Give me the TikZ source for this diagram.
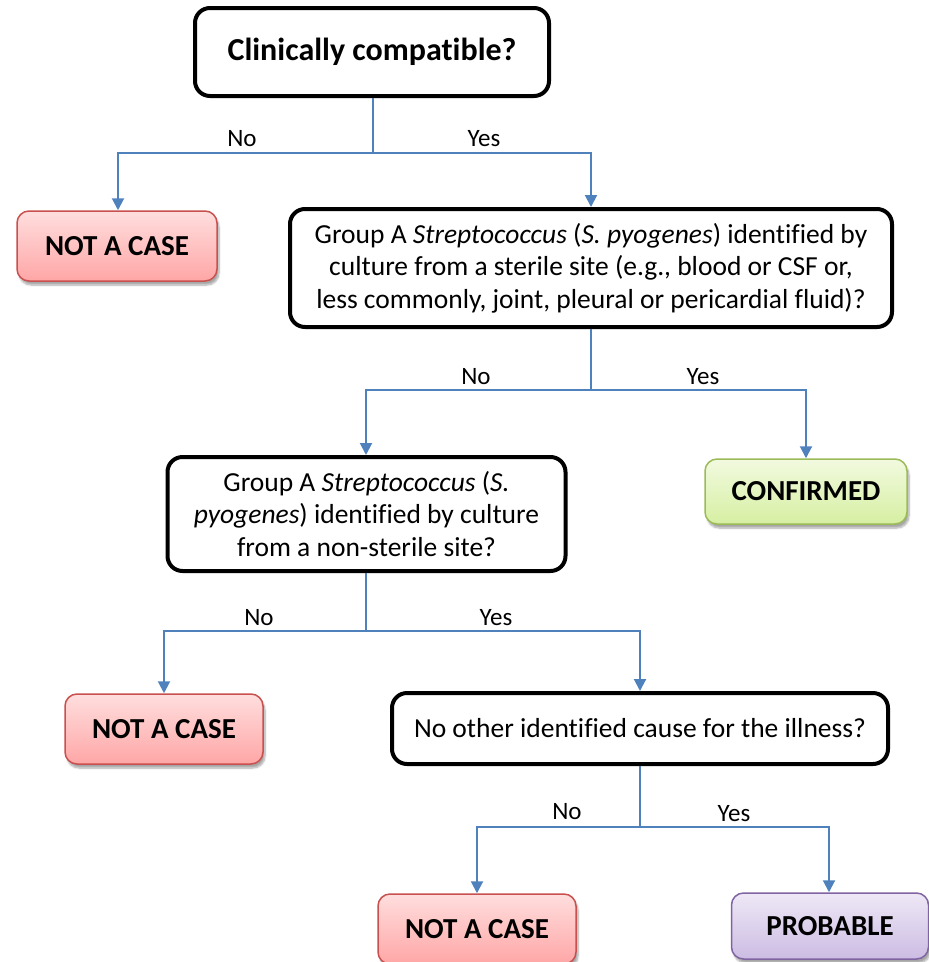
\documentclass[tikz,border=0pt]{standalone}
\usepackage{fontspec}
\setmainfont[Ligatures=NoCommon]{Carlito}
\usetikzlibrary{arrows.meta,shadows.blur}
\definecolor{conn}{HTML}{4F81BD}
\definecolor{redtop}{HTML}{FFDEDE}
\definecolor{redbot}{HTML}{FFA6A6}
\definecolor{redline}{HTML}{C8504E}
\definecolor{greentop}{HTML}{F2FADF}
\definecolor{greenbot}{HTML}{D6EFA2}
\definecolor{greenline}{HTML}{9BBB59}
\definecolor{purptop}{HTML}{EEE8F6}
\definecolor{purpbot}{HTML}{CCBCE3}
\definecolor{purpline}{HTML}{8064A2}
\tikzset{
  question/.style={draw=black, line width=4pt, rounded corners=15pt, fill=white,
    align=center, inner sep=0pt, font=\fontsize{27.5}{32.5}\selectfont},
  result/.style={rounded corners=12pt, line width=1.5pt, inner sep=0pt,
    font=\fontsize{29}{32}\selectfont\bfseries,
    blur shadow={shadow xshift=2pt, shadow yshift=-4pt, shadow blur steps=6, shadow opacity=35}},
  redbox/.style={result, draw=redline, top color=redtop, bottom color=redbot},
  greenbox/.style={result, draw=greenline, top color=greentop, bottom color=greenbot},
  purpbox/.style={result, draw=purpline, top color=purptop, bottom color=purpbot},
  link/.style={draw=conn, line width=2pt},
  arrowlink/.style={link, -{Triangle[width=12pt,length=12pt]}},
  lab/.style={font=\fontsize{25}{28}\selectfont, inner sep=0pt}
}
\begin{document}
\begin{tikzpicture}[x=1pt,y=-1pt]
\useasboundingbox (0,0) rectangle (929,962);

% question boxes
\node[question, minimum width=354pt, minimum height=88pt, font=\fontsize{32}{36}\selectfont\bfseries] (q1) at (372,52) {Clinically compatible?};
\node[question, minimum width=602pt, minimum height=118pt] (q2) at (591,268)
  {Group A \textit{Streptococcus} (\textit{S. pyogenes}) identified by\\
   culture from a sterile site (e.g., blood or CSF or,\\
   less commonly, joint, pleural or pericardial fluid)?};
\node[question, minimum width=398pt, minimum height=114pt] (q3) at (366.5,514)
  {Group A \textit{Streptococcus} (\textit{S.}\\
   \textit{pyogenes}) identified by culture\\
   from a non-sterile site?};
\node[question, minimum width=496pt, minimum height=71pt] (q4) at (640,728.5)
  {No other identified cause for the illness?};

% result boxes
\node[redbox, minimum width=200pt, minimum height=70pt] (n1) at (117,246) {NOT A CASE};
\node[greenbox, minimum width=202pt, minimum height=65pt] (c1) at (806,491.5) {CONFIRMED};
\node[redbox, minimum width=198pt, minimum height=70pt] (n2) at (164,729) {NOT A CASE};
\node[redbox, minimum width=198pt, minimum height=70pt] (n3) at (477,929) {NOT A CASE};
\node[purpbox, minimum width=197pt, minimum height=66pt] (p1) at (830,926) {PROBABLE};

% junction coordinates
\coordinate (j1) at (373,153);
\coordinate (j1l) at (118,153);
\coordinate (j1r) at (591,153);
\coordinate (j2) at (591,390);
\coordinate (j2l) at (366,390);
\coordinate (j2r) at (806,390);
\coordinate (j3) at (366,631);
\coordinate (j3l) at (164,631);
\coordinate (j3r) at (640,631);
\coordinate (j4) at (640,827);
\coordinate (j4l) at (477,827);
\coordinate (j4r) at (829,827);

% connectors
\draw[link] (q1.south -| j1) -- (j1);
\draw[arrowlink] (j1) -- (j1l) -- (n1.north -| j1l);
\draw[arrowlink] (j1) -- (j1r) -- (q2.north -| j1r);

\draw[link] (q2.south -| j2) -- (j2);
\draw[arrowlink] (j2) -- (j2l) -- (q3.north -| j2l);
\draw[arrowlink] (j2) -- (j2r) -- (c1.north -| j2r);

\draw[link] (q3.south -| j3) -- (j3);
\draw[arrowlink] (j3) -- (j3l) -- (n2.north -| j3l);
\draw[arrowlink] (j3) -- (j3r) -- (q4.north -| j3r);

\draw[link] (q4.south -| j4) -- (j4);
\draw[arrowlink] (j4) -- (j4l) -- (n3.north -| j4l);
\draw[arrowlink] (j4) -- (j4r) -- (p1.north -| j4r);

% labels
\node[lab] (l1n) at (242,139) {No};
\node[lab] (l1y) at (484,139) {Yes};
\node[lab] (l2n) at (476,377) {No};
\node[lab] (l2y) at (703,377) {Yes};
\node[lab] (l3n) at (259,618) {No};
\node[lab] (l3y) at (496,618) {Yes};
\node[lab] (l4n) at (567,812) {No};
\node[lab] (l4y) at (734,814) {Yes};
\end{tikzpicture}
\end{document}
